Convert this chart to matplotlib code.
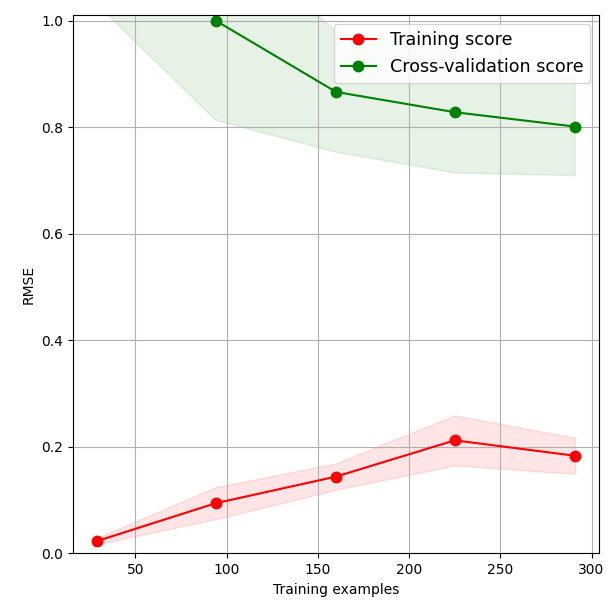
import numpy as np
import matplotlib
matplotlib.use("Agg")
import matplotlib.pyplot as plt

train_sizes = [29, 94, 160, 225, 291]
train_mean = [0.023, 0.094, 0.144, 0.212, 0.183]
train_std = [0.006, 0.030, 0.025, 0.047, 0.034]
cv_mean = [1.60, 1.000, 0.866, 0.828, 0.801]
cv_std = [0.57, 0.187, 0.113, 0.114, 0.092]

x = np.array(train_sizes)
tm = np.array(train_mean)
ts = np.array(train_std)
cm = np.array(cv_mean)
cs = np.array(cv_std)

fig = plt.figure(figsize=(6.1, 6.1), dpi=100)
ax = fig.add_axes([0.120, 0.093, 0.862, 0.882])
ax.grid()
ax.fill_between(x, tm - ts, tm + ts, alpha=0.1, color="r")
ax.fill_between(x, cm - cs, cm + cs, alpha=0.1, color="g")
ax.plot(x, tm, "o-", color="r", markersize=7.5, label="Training score")
ax.plot(x, cm, "o-", color="g", markersize=7.5, label="Cross-validation score")
ax.set_ylim(0, 1.01)
ax.set_xlabel("Training examples")
ax.set_ylabel("RMSE")
ax.legend(loc="upper right", fontsize=12.6)
fig.savefig("out.png", dpi=100)
